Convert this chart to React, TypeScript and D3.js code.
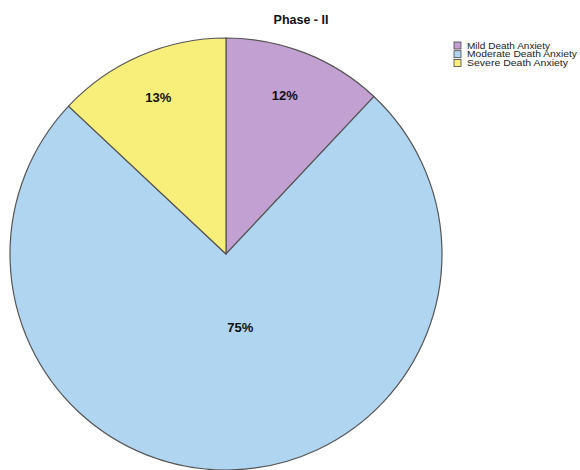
import React from "react";
import * as d3 from "d3";

const categories = ["Mild Death Anxiety", "Moderate Death Anxiety", "Severe Death Anxiety"];
const values = [12, 75, 13];
const labels = ["12%", "75%", "13%"];
const colors = ["#C3A0D2", "#B0D5F0", "#F8EF7A"];
const legendWidths = [83, 110, 101];

export default function App() {
  const W = 580, H = 470;
  const cx = 226, cy = 254, r = 216;
  const pie = d3.pie<number>().sort(null).value((d) => d)(values);
  const arc = d3.arc<d3.PieArcDatum<number>>().innerRadius(0).outerRadius(r);
  return (
    <svg width={W} height={H} style={{ position: "absolute", left: 0, top: 0, background: "#fff" }}
      fontFamily="Liberation Sans, Arial, sans-serif">
      <text x={301} y={24} textAnchor="middle" fontWeight="bold" fontSize={12.5} fill="#111">Phase - II</text>
      <g transform={`translate(${cx},${cy})`}>
        {pie.map((p, i) => (
          <path key={i} d={arc(p) || ""} fill={colors[i]} stroke="#555" strokeWidth={1.2} />
        ))}
        {pie.map((p, i) => {
          const rr = i === 1 ? r * 0.34 : r * 0.79;
          const a = (p.startAngle + p.endAngle) / 2;
          const x = Math.sin(a) * rr + (i === 1 ? 12 : i === 0 ? -4 : 0);
          const y = -Math.cos(a) * rr;
          return (
            <text key={i} x={x} y={y} textAnchor="middle" dominantBaseline="central"
              fontWeight="bold" fontSize={13} fill="#111">{labels[i]}</text>
          );
        })}
      </g>
      <g transform="translate(454,42)">
        {categories.map((c, i) => (
          <g key={c} transform={`translate(0,${i * 8.7})`}>
            <rect x={0} y={0} width={7} height={7} fill={colors[i]} stroke="#444" strokeWidth={0.8} />
            <text x={13} y={6.5} fontSize={8.5} fill="#222" textLength={legendWidths[i]}
              lengthAdjust="spacingAndGlyphs">{c}</text>
          </g>
        ))}
      </g>
    </svg>
  );
}
